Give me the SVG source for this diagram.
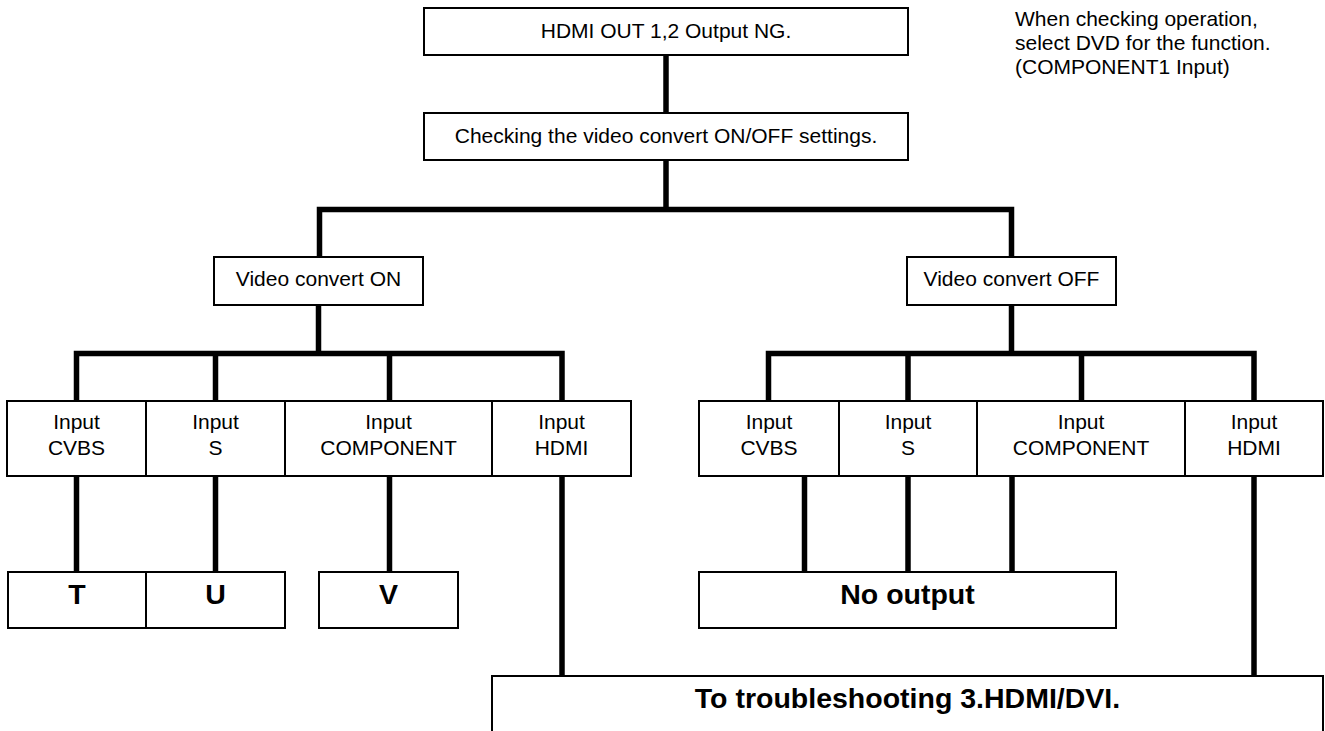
<svg xmlns="http://www.w3.org/2000/svg" width="1325" height="731" viewBox="0 0 1325 731">
<style>
.box{fill:#fff;stroke:#000;stroke-width:2}
.t{font-family:"Liberation Sans",Arial,sans-serif;font-size:21px;fill:#000;text-anchor:middle}
.b{font-family:"Liberation Sans",Arial,sans-serif;font-size:28.5px;font-weight:bold;fill:#000;text-anchor:middle}
.n{font-family:"Liberation Sans",Arial,sans-serif;font-size:21px;fill:#000}
.c{fill:none;stroke:#000;stroke-width:5.5;stroke-linejoin:miter;stroke-linecap:butt}
</style>
<rect width="1325" height="731" fill="#fff"/>
<g id="connectors">
<path class="c" d="M666,55 V113"/>
<path class="c" d="M666,160 V209.5"/>
<path class="c" d="M319.5,257 V209.5 H1011.5 V257"/>
<path class="c" d="M318.5,305 V353.5"/>
<path class="c" d="M76.5,401 V353.5 H562 V401"/>
<path class="c" d="M215.5,353.5 V401"/>
<path class="c" d="M389.5,353.5 V401"/>
<path class="c" d="M1011.5,305 V353.5"/>
<path class="c" d="M768.5,401 V353.5 H1254 V401"/>
<path class="c" d="M908,353.5 V401"/>
<path class="c" d="M1081.5,353.5 V401"/>
<path class="c" d="M76.5,476 V572"/>
<path class="c" d="M215.5,476 V572"/>
<path class="c" d="M389.5,476 V572"/>
<path class="c" d="M562,476 V676"/>
<path class="c" d="M804.5,476 V572"/>
<path class="c" d="M908,476 V572"/>
<path class="c" d="M1012,476 V572"/>
<path class="c" d="M1254,476 V676"/>
</g>
<g id="n-top"><rect class="box" x="424" y="8" width="484" height="47"/><text class="t" x="666" y="38">HDMI OUT 1,2 Output NG.</text></g>
<g id="n-check"><rect class="box" x="424" y="113" width="484" height="47"/><text class="t" x="666" y="143">Checking the video convert ON/OFF settings.</text></g>
<g id="note"><text class="n" x="1015"><tspan x="1015" y="26">When checking operation,</tspan><tspan x="1015" y="50">select DVD for the function.</tspan><tspan x="1015" y="74">(COMPONENT1 Input)</tspan></text></g>
<g id="n-on"><rect class="box" x="214" y="257" width="209" height="48"/><text class="t" x="318.5" y="286">Video convert ON</text></g>
<g id="n-off"><rect class="box" x="907" y="257" width="209" height="48"/><text class="t" x="1011.5" y="286">Video convert OFF</text></g>
<g id="n-on-cvbs"><rect class="box" x="7" y="401" width="139" height="75"/><text class="t" x="76.5" y="429">Input</text><text class="t" x="76.5" y="455">CVBS</text></g>
<g id="n-on-s"><rect class="box" x="146" y="401" width="139" height="75"/><text class="t" x="215.5" y="429">Input</text><text class="t" x="215.5" y="455">S</text></g>
<g id="n-on-comp"><rect class="box" x="285" y="401" width="207" height="75"/><text class="t" x="388.5" y="429">Input</text><text class="t" x="388.5" y="455">COMPONENT</text></g>
<g id="n-on-hdmi"><rect class="box" x="492" y="401" width="139" height="75"/><text class="t" x="561.5" y="429">Input</text><text class="t" x="561.5" y="455">HDMI</text></g>
<g id="n-off-cvbs"><rect class="box" x="699" y="401" width="140" height="75"/><text class="t" x="769" y="429">Input</text><text class="t" x="769" y="455">CVBS</text></g>
<g id="n-off-s"><rect class="box" x="839" y="401" width="138" height="75"/><text class="t" x="908" y="429">Input</text><text class="t" x="908" y="455">S</text></g>
<g id="n-off-comp"><rect class="box" x="977" y="401" width="208" height="75"/><text class="t" x="1081" y="429">Input</text><text class="t" x="1081" y="455">COMPONENT</text></g>
<g id="n-off-hdmi"><rect class="box" x="1185" y="401" width="138" height="75"/><text class="t" x="1254" y="429">Input</text><text class="t" x="1254" y="455">HDMI</text></g>
<g id="n-t"><rect class="box" x="8" y="572" width="138" height="56"/><text class="b" x="77" y="604">T</text></g>
<g id="n-u"><rect class="box" x="146" y="572" width="139" height="56"/><text class="b" x="215.5" y="604">U</text></g>
<g id="n-v"><rect class="box" x="319" y="572" width="139" height="56"/><text class="b" x="388.5" y="604">V</text></g>
<g id="n-noout"><rect class="box" x="699" y="572" width="417" height="56"/><text class="b" x="907.5" y="604">No output</text></g>
<g id="n-trouble"><rect class="box" x="492" y="676" width="831" height="80"/><text class="b" x="907.5" y="708">To troubleshooting 3.HDMI/DVI.</text></g>
</svg>
